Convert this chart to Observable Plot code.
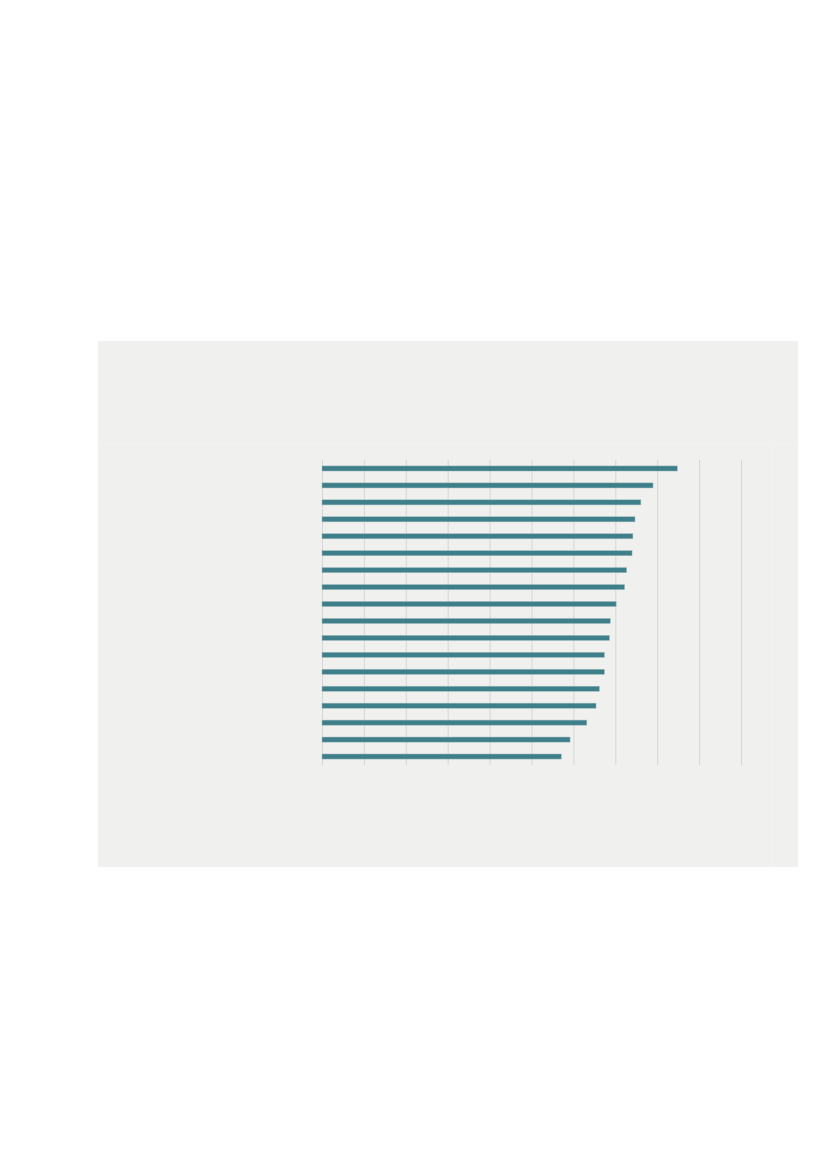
<!DOCTYPE html>
<html>
<head>
<meta charset="utf-8">
<script src="https://cdn.jsdelivr.net/npm/d3@7"></script>
<script src="https://cdn.jsdelivr.net/npm/@observablehq/plot@0.6"></script>
<style>
  html, body { margin: 0; padding: 0; background: #ffffff; width: 827px; height: 1169px; overflow: hidden; font-family: "Liberation Sans", Arial, sans-serif; }
  #panel { position: absolute; left: 98px; top: 341px; width: 700px; height: 526px; background: #f0f0ef; }
  #hline { position: absolute; left: 0; right: 0; top: 103px; height: 0; border-top: 1px solid #f3f3f2; }
  #vline { position: absolute; left: 673px; top: 103px; bottom: 0; width: 0; border-left: 1px solid #f3f3f2; }
  #chart { position: absolute; left: 0; top: 0; }
  #chart svg { background: transparent; }
</style>
</head>
<body>
<div id="panel">
  <div id="hline"></div>
  <div id="vline"></div>
  <div id="chart"></div>
</div>
<script>
const categories = [
  "Item 1", "Item 2", "Item 3", "Item 4", "Item 5", "Item 6",
  "Item 7", "Item 8", "Item 9", "Item 10", "Item 11", "Item 12",
  "Item 13", "Item 14", "Item 15", "Item 16", "Item 17", "Item 18"
];
const values = [8.48, 7.90, 7.61, 7.47, 7.42, 7.40, 7.27, 7.22, 7.02, 6.88, 6.86, 6.74, 6.74, 6.62, 6.54, 6.32, 5.92, 5.71];
const gridTicks = [0, 1, 2, 3, 4, 5, 6, 7, 8, 9, 10];

const data = categories.map((c, i) => ({category: c, value: values[i]}));

const chart = Plot.plot({
  width: 700,
  height: 526,
  marginLeft: 224,
  marginRight: 57,
  marginTop: 119,
  marginBottom: 102,
  style: {background: "transparent"},
  x: {domain: [0, 10], axis: null},
  y: {domain: categories, axis: null, paddingInner: 0.7, paddingOuter: 0.35, round: false},
  marks: [
    Plot.gridX(gridTicks, {stroke: "#d6d6d6", strokeOpacity: 1, strokeWidth: 1}),
    Plot.barX(data, {x: "value", y: "category", fill: "#3f7f89", stroke: "#9fbcc0", strokeWidth: 0.5})
  ]
});
document.getElementById("chart").appendChild(chart);
</script>
</body>
</html>
